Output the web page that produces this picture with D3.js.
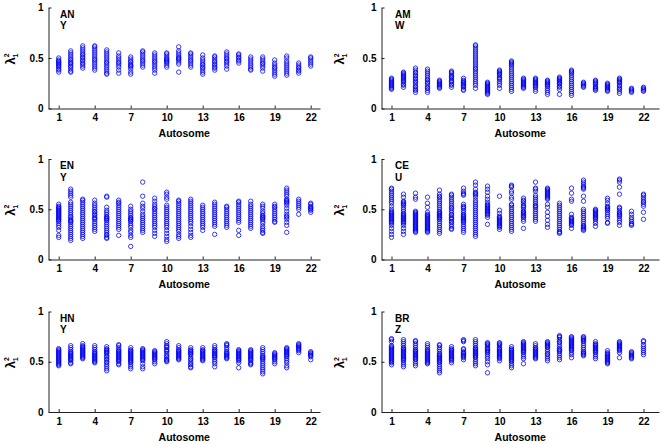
<!DOCTYPE html>
<html>
<head>
<meta charset="utf-8">
<script src="https://cdn.jsdelivr.net/npm/d3@7"></script>
<style>
  html, body { margin: 0; padding: 0; background: #fff; }
  svg { display: block; }
  text { font-family: "Liberation Sans", Arial, Helvetica, sans-serif; font-weight: bold; fill: #000; }
</style>
</head>
<body>
<svg id="chart" width="661" height="444"></svg>
<script>
// ---------------- DATA ----------------
const chromosomes = d3.range(1, 23);
const xTickValues = [1, 4, 7, 10, 13, 16, 19, 22];
const yTickValues = [0, 0.5, 1];
const xAxisTitle = "Autosome";
const panelNames = [["AN", "Y"], ["AM", "W"], ["EN", "Y"], ["CE", "U"], ["HN", "Y"], ["BR", "Z"]];

const anyValues = [
  [0.36,0.38,0.39,0.41,0.42,0.43,0.44,0.45,0.46,0.47,0.48,0.50],
  [0.36,0.37,0.39,0.41,0.42,0.44,0.45,0.46,0.48,0.49,0.51,0.53,0.55,0.57],
  [0.40,0.42,0.44,0.45,0.47,0.48,0.50,0.51,0.53,0.54,0.56,0.58,0.60,0.62],
  [0.38,0.40,0.42,0.44,0.46,0.48,0.49,0.51,0.53,0.55,0.57,0.59,0.61,0.62],
  [0.34,0.35,0.37,0.39,0.41,0.43,0.45,0.46,0.48,0.50,0.52,0.54,0.56,0.58],
  [0.35,0.38,0.41,0.43,0.45,0.46,0.48,0.50,0.52,0.55],
  [0.34,0.36,0.39,0.41,0.42,0.43,0.44,0.46,0.47,0.49,0.51],
  [0.41,0.43,0.45,0.47,0.48,0.50,0.52,0.54,0.56,0.57],
  [0.35,0.38,0.40,0.42,0.44,0.46,0.47,0.49,0.51,0.53,0.55],
  [0.41,0.43,0.45,0.46,0.47,0.48,0.49,0.50,0.52,0.54,0.55],
  [0.36,0.44,0.46,0.48,0.49,0.50,0.51,0.53,0.55,0.57,0.61],
  [0.41,0.43,0.45,0.47,0.48,0.50,0.52,0.54,0.55],
  [0.34,0.36,0.38,0.40,0.41,0.43,0.44,0.46,0.48,0.50,0.53],
  [0.38,0.40,0.41,0.43,0.44,0.46,0.47,0.49,0.51,0.52],
  [0.39,0.42,0.44,0.46,0.47,0.49,0.50,0.52,0.54,0.56],
  [0.45,0.47,0.48,0.50,0.51,0.53,0.54],
  [0.38,0.39,0.41,0.43,0.45,0.47,0.49,0.51],
  [0.37,0.40,0.42,0.44,0.45,0.47,0.49,0.51],
  [0.32,0.34,0.36,0.38,0.40,0.41,0.43,0.45,0.48],
  [0.33,0.35,0.37,0.39,0.41,0.43,0.45,0.47,0.50,0.52],
  [0.35,0.37,0.38,0.40,0.41,0.43,0.45],
  [0.42,0.44,0.46,0.48,0.50,0.51]
];

const amwValues = [
  [0.19,0.20,0.21,0.22,0.23,0.24,0.25,0.26,0.27,0.28,0.29,0.30],
  [0.21,0.23,0.24,0.26,0.27,0.28,0.29,0.30,0.31,0.32,0.33,0.34,0.35,0.36],
  [0.16,0.18,0.19,0.21,0.22,0.24,0.26,0.27,0.29,0.30,0.32,0.33,0.35,0.36,0.38,0.40],
  [0.16,0.18,0.20,0.21,0.23,0.25,0.26,0.28,0.29,0.31,0.33,0.35,0.37,0.39],
  [0.20,0.21,0.22,0.23,0.24,0.25,0.26,0.27,0.28],
  [0.21,0.23,0.24,0.26,0.27,0.28,0.30,0.31,0.32,0.33,0.35,0.36,0.37],
  [0.18,0.19,0.21,0.22,0.23,0.24,0.25,0.26,0.27,0.28,0.30],
  [0.20,0.23,0.25,0.27,0.29,0.31,0.33,0.35,0.37,0.39,0.40,0.42,0.44,0.46,0.48,0.50,0.52,0.54,0.56,0.58,0.60,0.62,0.63],
  [0.14,0.15,0.16,0.17,0.18,0.19,0.20,0.21,0.22,0.23,0.24,0.25,0.26],
  [0.20,0.23,0.25,0.27,0.29,0.30,0.31,0.33,0.34,0.35,0.36,0.37,0.38],
  [0.17,0.19,0.21,0.23,0.25,0.27,0.29,0.31,0.33,0.35,0.37,0.39,0.41,0.43,0.44,0.45,0.46,0.47],
  [0.20,0.21,0.22,0.23,0.24,0.25,0.26,0.27,0.28,0.29,0.30],
  [0.17,0.19,0.21,0.22,0.23,0.24,0.25,0.26,0.27,0.28,0.29,0.30],
  [0.14,0.16,0.18,0.20,0.22,0.23,0.24,0.25,0.26,0.27,0.28],
  [0.14,0.19,0.21,0.22,0.24,0.25,0.26,0.27,0.28,0.29,0.30,0.31],
  [0.13,0.15,0.17,0.19,0.21,0.23,0.25,0.27,0.29,0.31,0.33,0.35,0.36,0.37,0.38],
  [0.21,0.22,0.23,0.24,0.25,0.26],
  [0.18,0.19,0.20,0.21,0.22,0.24,0.25,0.26,0.27,0.28],
  [0.17,0.18,0.19,0.20,0.21,0.22,0.23,0.24,0.25],
  [0.15,0.17,0.19,0.20,0.22,0.23,0.25,0.26,0.27,0.28,0.29,0.30],
  [0.16,0.17,0.18,0.19,0.20],
  [0.17,0.18,0.19,0.20,0.21]
];

const enyValues = [
  [0.22,0.24,0.29,0.32,0.34,0.36,0.38,0.39,0.40,0.41,0.42,0.43,0.44,0.45,0.46,0.47,0.48,0.49,0.50,0.51,0.52,0.53,0.55],
  [0.19,0.21,0.23,0.25,0.27,0.29,0.31,0.33,0.35,0.37,0.38,0.39,0.40,0.42,0.43,0.45,0.47,0.49,0.51,0.53,0.55,0.57,0.62,0.64,0.66,0.68,0.70],
  [0.21,0.23,0.25,0.27,0.29,0.31,0.33,0.35,0.37,0.39,0.41,0.43,0.45,0.47,0.49,0.51,0.53,0.55,0.57,0.59,0.60],
  [0.28,0.30,0.32,0.34,0.36,0.38,0.40,0.41,0.42,0.44,0.45,0.47,0.48,0.50,0.52,0.54,0.56,0.59],
  [0.21,0.22,0.24,0.25,0.27,0.29,0.31,0.33,0.35,0.37,0.39,0.40,0.41,0.42,0.43,0.45,0.47,0.49,0.52,0.62,0.63],
  [0.24,0.30,0.32,0.34,0.36,0.38,0.40,0.42,0.44,0.46,0.48,0.50,0.52,0.54,0.56,0.57,0.59],
  [0.13,0.22,0.24,0.27,0.29,0.32,0.34,0.36,0.38,0.39,0.40,0.41,0.42,0.44,0.46,0.48,0.50,0.53],
  [0.27,0.29,0.31,0.33,0.35,0.37,0.39,0.41,0.43,0.45,0.48,0.51,0.53,0.56,0.63,0.77],
  [0.23,0.26,0.29,0.32,0.34,0.36,0.38,0.40,0.42,0.44,0.46,0.48,0.50,0.51,0.53,0.55,0.58,0.61],
  [0.18,0.20,0.23,0.26,0.29,0.32,0.34,0.36,0.38,0.40,0.42,0.44,0.46,0.48,0.50,0.52,0.54,0.60,0.62,0.65,0.67],
  [0.21,0.23,0.25,0.28,0.30,0.32,0.34,0.36,0.38,0.40,0.42,0.44,0.46,0.48,0.50,0.52,0.54,0.56,0.58,0.59],
  [0.22,0.24,0.27,0.30,0.33,0.36,0.38,0.40,0.42,0.44,0.46,0.48,0.50,0.52,0.54,0.56,0.58,0.60],
  [0.29,0.32,0.34,0.36,0.38,0.40,0.42,0.44,0.46,0.48,0.50,0.52,0.54],
  [0.25,0.33,0.35,0.37,0.39,0.41,0.43,0.45,0.47,0.49,0.51,0.53,0.55,0.57],
  [0.32,0.34,0.36,0.38,0.40,0.42,0.44,0.46,0.48,0.50,0.52,0.53],
  [0.24,0.29,0.37,0.39,0.41,0.43,0.45,0.47,0.49,0.51,0.53,0.55,0.57,0.58],
  [0.31,0.33,0.35,0.37,0.39,0.41,0.43,0.45,0.47,0.49,0.51,0.53,0.55,0.58],
  [0.26,0.27,0.29,0.31,0.33,0.36,0.38,0.40,0.41,0.42,0.43,0.44,0.46,0.48,0.51,0.53,0.55],
  [0.37,0.38,0.40,0.42,0.44,0.46,0.48,0.50,0.52,0.53,0.55],
  [0.27,0.34,0.37,0.40,0.42,0.43,0.45,0.48,0.51,0.54,0.56,0.57,0.58,0.59,0.60,0.63,0.65,0.67,0.69,0.71],
  [0.45,0.50,0.52,0.54,0.56,0.58,0.60],
  [0.47,0.49,0.50,0.51,0.52,0.53,0.55,0.56]
];

const ceuValues = [
  [0.22,0.25,0.28,0.31,0.34,0.36,0.37,0.38,0.39,0.40,0.41,0.42,0.43,0.44,0.45,0.46,0.47,0.48,0.50,0.53,0.56,0.58,0.60,0.62,0.64,0.66,0.68,0.70,0.71],
  [0.25,0.28,0.31,0.34,0.36,0.37,0.38,0.39,0.40,0.41,0.42,0.43,0.44,0.45,0.46,0.48,0.50,0.52,0.54,0.55,0.56,0.57,0.58,0.62,0.65],
  [0.27,0.28,0.29,0.30,0.31,0.32,0.33,0.34,0.35,0.36,0.37,0.38,0.39,0.40,0.41,0.42,0.43,0.44,0.45,0.46,0.47,0.48,0.60,0.62,0.66],
  [0.27,0.28,0.29,0.30,0.31,0.32,0.33,0.34,0.35,0.36,0.37,0.38,0.39,0.40,0.41,0.42,0.43,0.44,0.45,0.47,0.52,0.56,0.62],
  [0.26,0.28,0.30,0.32,0.34,0.36,0.38,0.40,0.41,0.42,0.43,0.44,0.45,0.46,0.47,0.48,0.50,0.52,0.54,0.56,0.58,0.60,0.62,0.63,0.65,0.69],
  [0.30,0.31,0.33,0.35,0.37,0.38,0.40,0.41,0.42,0.44,0.45,0.47,0.49,0.51,0.52,0.54,0.56,0.58,0.60,0.62,0.64,0.65],
  [0.27,0.29,0.31,0.33,0.35,0.37,0.38,0.39,0.40,0.41,0.42,0.43,0.44,0.45,0.47,0.49,0.51,0.52,0.53,0.55,0.64,0.65,0.66,0.68,0.71],
  [0.23,0.25,0.27,0.29,0.31,0.33,0.35,0.37,0.39,0.41,0.43,0.45,0.47,0.49,0.51,0.53,0.55,0.57,0.59,0.62,0.64,0.65,0.66,0.67,0.70,0.74,0.77],
  [0.35,0.42,0.44,0.45,0.46,0.47,0.48,0.49,0.50,0.51,0.52,0.53,0.54,0.55,0.57,0.60,0.63,0.67,0.70,0.73],
  [0.30,0.32,0.33,0.34,0.35,0.36,0.37,0.38,0.39,0.40,0.41,0.42,0.43,0.46,0.49,0.63],
  [0.28,0.30,0.32,0.34,0.36,0.38,0.40,0.42,0.44,0.46,0.48,0.50,0.52,0.54,0.55,0.60,0.62,0.66,0.68,0.72,0.73,0.74],
  [0.31,0.38,0.40,0.42,0.43,0.44,0.45,0.46,0.47,0.48,0.50,0.52,0.53,0.54,0.56,0.58,0.59,0.61],
  [0.38,0.40,0.42,0.44,0.46,0.48,0.50,0.52,0.53,0.54,0.56,0.58,0.60,0.62,0.64,0.68,0.70,0.71,0.77],
  [0.32,0.35,0.39,0.43,0.47,0.52,0.55,0.60,0.61,0.62,0.63,0.64,0.65,0.66,0.67,0.68,0.69,0.70,0.71],
  [0.26,0.27,0.28,0.30,0.32,0.34,0.36,0.38,0.40,0.42,0.44,0.46,0.48,0.50,0.52,0.54,0.56],
  [0.31,0.34,0.35,0.36,0.37,0.38,0.39,0.40,0.41,0.42,0.45,0.58,0.60,0.66,0.71],
  [0.29,0.30,0.31,0.32,0.33,0.34,0.36,0.38,0.40,0.42,0.44,0.46,0.48,0.50,0.58,0.63,0.70,0.71,0.72,0.73,0.75,0.77,0.79],
  [0.33,0.36,0.38,0.40,0.41,0.42,0.43,0.44,0.45,0.46,0.47,0.48,0.49,0.50],
  [0.36,0.37,0.41,0.43,0.45,0.47,0.49,0.50,0.51,0.52,0.53,0.56,0.59,0.61],
  [0.34,0.37,0.39,0.41,0.43,0.44,0.45,0.46,0.47,0.49,0.51,0.52,0.65,0.72,0.77,0.79,0.80],
  [0.34,0.35,0.36,0.38,0.40,0.42,0.45,0.48],
  [0.40,0.47,0.53,0.55,0.57,0.58,0.60,0.62,0.64,0.65]
];

const hnyValues = [
  [0.46,0.47,0.48,0.49,0.50,0.51,0.52,0.53,0.54,0.55,0.56,0.57,0.58,0.59,0.60,0.61,0.62,0.63],
  [0.48,0.49,0.51,0.52,0.53,0.54,0.55,0.56,0.57,0.58,0.59,0.60,0.62,0.64,0.66],
  [0.53,0.54,0.55,0.56,0.57,0.58,0.59,0.60,0.61,0.62,0.63,0.64,0.65,0.66,0.68],
  [0.49,0.50,0.51,0.52,0.53,0.54,0.55,0.56,0.57,0.58,0.59,0.60,0.62,0.64,0.66],
  [0.41,0.43,0.45,0.47,0.49,0.50,0.52,0.53,0.55,0.56,0.58,0.59,0.60,0.61,0.62,0.63,0.65],
  [0.47,0.48,0.50,0.51,0.52,0.53,0.54,0.55,0.56,0.57,0.58,0.59,0.60,0.61,0.62,0.64,0.66,0.67],
  [0.43,0.45,0.47,0.49,0.50,0.51,0.52,0.53,0.54,0.55,0.56,0.57,0.58,0.59,0.60,0.61,0.62,0.64],
  [0.43,0.45,0.48,0.51,0.52,0.53,0.54,0.55,0.56,0.57,0.58,0.59,0.60,0.61,0.62,0.63],
  [0.48,0.50,0.52,0.53,0.54,0.55,0.56,0.57,0.58,0.59,0.60,0.61],
  [0.50,0.51,0.52,0.53,0.55,0.56,0.58,0.60,0.61,0.62,0.64,0.65,0.66,0.68,0.70],
  [0.52,0.53,0.54,0.55,0.56,0.57,0.58,0.59,0.60,0.61,0.62,0.64,0.66],
  [0.44,0.45,0.47,0.48,0.50,0.52,0.53,0.55,0.57,0.58,0.59,0.60,0.61,0.62,0.64],
  [0.51,0.52,0.53,0.54,0.55,0.56,0.57,0.58,0.59,0.60,0.61,0.62,0.64],
  [0.45,0.48,0.50,0.52,0.54,0.55,0.56,0.57,0.58,0.59,0.60,0.61,0.62,0.64,0.66],
  [0.53,0.54,0.55,0.56,0.57,0.58,0.59,0.60,0.62,0.64,0.66,0.67,0.68],
  [0.44,0.49,0.51,0.52,0.53,0.54,0.55,0.56,0.57,0.58,0.59,0.60,0.61,0.62],
  [0.47,0.48,0.49,0.51,0.52,0.53,0.54,0.55,0.56,0.57,0.58,0.59,0.60,0.61,0.62],
  [0.38,0.40,0.42,0.44,0.46,0.48,0.50,0.52,0.53,0.54,0.55,0.56,0.58,0.60,0.62,0.64],
  [0.48,0.50,0.52,0.53,0.54,0.55,0.56,0.57,0.58,0.59],
  [0.44,0.46,0.49,0.51,0.53,0.55,0.56,0.57,0.58,0.59,0.60,0.61,0.62,0.63,0.64],
  [0.59,0.61,0.62,0.63,0.64,0.65,0.66,0.67,0.68],
  [0.52,0.55,0.56,0.57,0.58,0.59,0.60]
];

const brzValues = [
  [0.47,0.49,0.50,0.51,0.52,0.53,0.54,0.55,0.56,0.57,0.58,0.59,0.60,0.61,0.62,0.63,0.64,0.65,0.66,0.70,0.72,0.73],
  [0.45,0.47,0.49,0.51,0.52,0.53,0.54,0.55,0.56,0.57,0.58,0.59,0.60,0.61,0.62,0.63,0.64,0.66,0.68,0.70,0.72],
  [0.46,0.48,0.50,0.52,0.53,0.54,0.55,0.56,0.57,0.58,0.59,0.60,0.61,0.62,0.64,0.66,0.68,0.70,0.71],
  [0.48,0.49,0.50,0.51,0.52,0.53,0.54,0.55,0.56,0.57,0.58,0.59,0.60,0.61,0.62,0.64,0.66,0.68],
  [0.39,0.41,0.43,0.45,0.47,0.49,0.50,0.51,0.52,0.53,0.54,0.55,0.56,0.57,0.58,0.60,0.62,0.64,0.66,0.67],
  [0.49,0.51,0.52,0.53,0.54,0.55,0.56,0.57,0.58,0.59,0.60,0.61,0.62,0.63,0.65],
  [0.52,0.54,0.55,0.56,0.57,0.58,0.59,0.60,0.62,0.63,0.70,0.71,0.72],
  [0.46,0.48,0.50,0.52,0.54,0.55,0.56,0.57,0.58,0.59,0.60,0.61,0.62,0.63,0.64,0.66,0.68,0.70,0.72],
  [0.39,0.47,0.50,0.53,0.55,0.57,0.59,0.60,0.61,0.62,0.63,0.64,0.66,0.67,0.68,0.69],
  [0.51,0.53,0.54,0.55,0.56,0.57,0.58,0.59,0.60,0.61,0.62,0.63,0.64,0.66,0.67,0.68,0.69],
  [0.44,0.46,0.48,0.50,0.51,0.52,0.53,0.54,0.55,0.56,0.57,0.58,0.59,0.60,0.61,0.62,0.63,0.65],
  [0.48,0.53,0.55,0.57,0.59,0.60,0.61,0.62,0.63,0.64,0.65,0.66,0.67,0.68,0.69,0.70],
  [0.53,0.54,0.55,0.56,0.57,0.58,0.59,0.60,0.61,0.62,0.63,0.64,0.66,0.68],
  [0.51,0.53,0.55,0.57,0.58,0.60,0.62,0.64,0.65,0.66,0.67,0.68,0.69,0.70],
  [0.52,0.54,0.56,0.58,0.60,0.61,0.62,0.63,0.65,0.67,0.69,0.70,0.72,0.74,0.75,0.76],
  [0.54,0.57,0.59,0.61,0.62,0.63,0.64,0.65,0.66,0.67,0.68,0.69,0.70,0.71,0.72,0.73,0.74,0.75],
  [0.56,0.57,0.58,0.59,0.60,0.62,0.64,0.66,0.68,0.70,0.71,0.72,0.73,0.74,0.75],
  [0.53,0.55,0.57,0.59,0.60,0.61,0.62,0.63,0.64,0.65,0.66,0.67,0.68,0.70],
  [0.48,0.49,0.50,0.51,0.52,0.53,0.54,0.55,0.56,0.57,0.58,0.59,0.61],
  [0.54,0.59,0.61,0.62,0.63,0.64,0.65,0.66,0.67,0.68,0.69,0.70],
  [0.53,0.54,0.55,0.56,0.57,0.58,0.59,0.60],
  [0.57,0.59,0.61,0.63,0.65,0.67,0.70,0.71]
];

const panelValues = [anyValues, amwValues, enyValues, ceuValues, hnyValues, brzValues];

// ---------------- LAYOUT ----------------
const cols = [
  { x0: 48.5, x1: 320, c1: 58.7, labelX: 60, yLabelX: 14.5 },
  { x0: 381.5, x1: 659, c1: 391.5, labelX: 395, yLabelX: 344 }
];
const rows = [
  { top: 7.5, bottom: 108.5 },
  { top: 159, bottom: 259.5 },
  { top: 311.5, bottom: 412 }
];
const step = 12;

const svg = d3.select("#chart");

panelValues.forEach((vals, i) => {
  const col = cols[i % 2], row = rows[Math.floor(i / 2)];
  const d0 = 1 - (col.c1 - col.x0) / step;
  const d1 = 22 + (col.x1 - (col.c1 + 21 * step)) / step;
  const x = d3.scaleLinear().domain([d0, d1]).range([col.x0, col.x1]);
  const y = d3.scaleLinear().domain([0, 1]).range([row.bottom, row.top]);

  const g = svg.append("g");

  // points
  const pts = [];
  vals.forEach((arr, ci) => arr.forEach(v => pts.push({ c: chromosomes[ci], v })));
  g.append("g").selectAll("circle").data(pts).join("circle")
    .attr("cx", d => x(d.c))
    .attr("cy", d => y(d.v))
    .attr("r", 2.2)
    .attr("fill", "none")
    .attr("stroke", "#0000f0")
    .attr("stroke-opacity", 0.8)
    .attr("stroke-width", 0.95);

  // x axis
  const xa = g.append("g").attr("transform", `translate(0,${row.bottom})`)
    .call(d3.axisBottom(x).tickValues(xTickValues).tickSize(-3).tickSizeOuter(0).tickPadding(5.5).tickFormat(d3.format("d")));
  // y axis
  const ya = g.append("g").attr("transform", `translate(${col.x0},0)`)
    .call(d3.axisLeft(y).tickValues(yTickValues).tickSize(-3).tickSizeOuter(0).tickPadding(5).tickFormat(d => d === 0.5 ? "0.5" : String(d)));
  [xa, ya].forEach(a => {
    a.selectAll("path, line").attr("stroke", "#222").attr("stroke-width", 1);
    a.selectAll("text").attr("font-size", 10).attr("font-weight", "bold")
      .attr("font-family", '"Liberation Sans", Arial, sans-serif').attr("fill", "#000");
  });

  // x title
  g.append("text")
    .attr("x", (col.x0 + col.x1) / 2)
    .attr("y", row.bottom + 28.5)
    .attr("text-anchor", "middle")
    .attr("font-size", 10.5)
    .text(xAxisTitle);

  // y title: lambda with superscript 2 and subscript 1
  const yl = g.append("text")
    .attr("transform", `translate(${col.yLabelX},${(row.top + row.bottom) / 2 + 1}) rotate(-90)`)
    .attr("text-anchor", "middle")
    .attr("font-size", 13);
  yl.append("tspan").text("λ");
  yl.append("tspan").attr("font-size", 7).attr("dy", -5.5).text("2");
  yl.append("tspan").attr("font-size", 7).attr("dx", -4).attr("dy", 8.5).text("1");

  // panel name
  const nm = panelNames[i];
  g.append("text").attr("x", col.labelX).attr("y", row.top + 10).attr("font-size", 10).text(nm[0]);
  g.append("text").attr("x", col.labelX).attr("y", row.top + 21.5).attr("font-size", 10).text(nm[1]);
});
</script>
</body>
</html>
